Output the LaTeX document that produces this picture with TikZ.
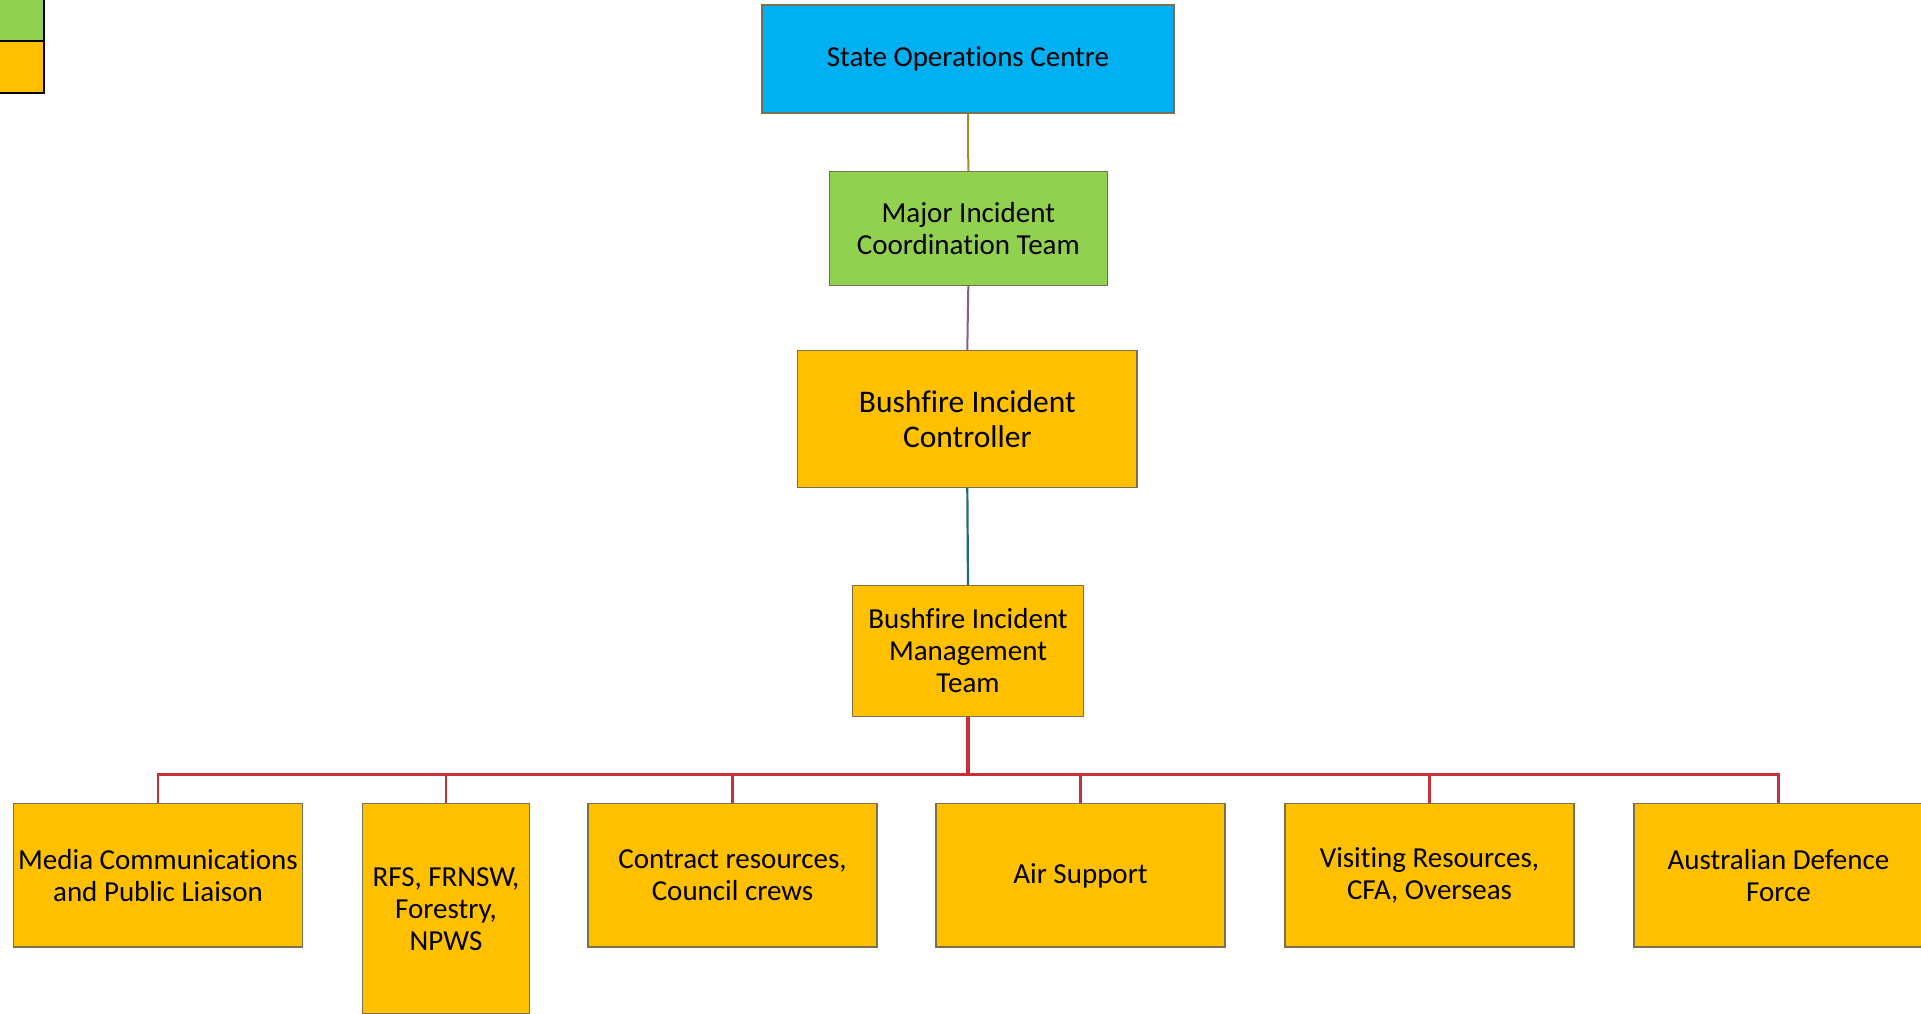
\documentclass[tikz,border=0pt]{standalone}
\usepackage{fontspec}
\setmainfont[Ligatures=NoCommon]{Carlito}
\definecolor{socblue}{HTML}{00B0F0}
\definecolor{micgreen}{HTML}{92D050}
\definecolor{bforange}{HTML}{FFC000}
\definecolor{boxedge}{HTML}{7A7050}
\definecolor{olivec}{HTML}{9A902A}
\definecolor{purplec}{HTML}{8E5A8A}
\definecolor{tealc}{HTML}{22697A}
\definecolor{redc}{HTML}{C8303A}
\begin{document}
\begin{tikzpicture}[x=1pt,y=-1pt,
  orgbox/.style={draw=boxedge,line width=1.3pt,inner sep=0pt,align=center,
    font=\fontsize{29}{32}\selectfont},
  bottombox/.style={orgbox,fill=bforange,minimum width=289pt,minimum height=143.3pt},
  legbox/.style={draw=black,line width=2.5pt,inner sep=0pt,minimum width=60pt},
  bus/.style={draw=redc,line width=2.4pt}
]
\useasboundingbox (0,0) rectangle (1921,1013);
\clip (0,0) rectangle (1921,1013);
% legend
\node[legbox,fill=micgreen,minimum height=55pt] (leg1) at (14,13.5) {};
\node[legbox,fill=bforange,minimum height=52pt] (leg2) at (14,67) {};
% main chain
\node[orgbox,fill=socblue,minimum width=412pt,minimum height=108pt] (soc) at (968,59) {State Operations Centre};
\node[orgbox,fill=micgreen,minimum width=278pt,minimum height=114pt] (mict) at (968.3,228.5) {Major Incident\\Coordination Team};
\node[orgbox,fill=bforange,minimum width=339.5pt,minimum height=137pt,font=\fontsize{31.5}{35}\selectfont] (bic) at (967.3,419) {Bushfire Incident\\Controller};
\node[orgbox,fill=bforange,minimum width=230.5pt,minimum height=131pt] (bimt) at (968,651) {Bushfire Incident\\Management\\Team};
% bottom row
\node[bottombox] (media) at (158,875.4) {Media Communications\\and Public Liaison};
\node[orgbox,fill=bforange,minimum width=166.7pt,minimum height=210.3pt] (rfs) at (446,908.9) {RFS, FRNSW,\\Forestry,\\NPWS};
\node[bottombox] (contract) at (732.5,875.4) {Contract resources,\\Council crews};
\node[bottombox] (air) at (1080.5,875.4) {Air Support};
\node[bottombox] (visit) at (1429.5,875.4) {Visiting Resources,\\CFA, Overseas};
\node[bottombox] (adf) at (1778.5,875.4) {Australian Defence\\Force};
\coordinate (busc) at (968,774.3);
% connectors
\draw[olivec,line width=2pt] (soc.south) -- (mict.north);
\draw[purplec,line width=2pt] (mict.south) -- (bic.north);
\draw[tealc,line width=2.2pt] (bic.south) -- (bimt.north);
\draw[redc,line width=3.2pt] (bimt.south) -- (busc);
\draw[bus] (media.north) |- (busc) -| (adf.north);
\draw[bus] (rfs.north) -- (rfs.north |- busc);
\draw[bus] (contract.north) -- (contract.north |- busc);
\draw[bus] (air.north) -- (air.north |- busc);
\draw[bus] (visit.north) -- (visit.north |- busc);
\end{tikzpicture}
\end{document}
